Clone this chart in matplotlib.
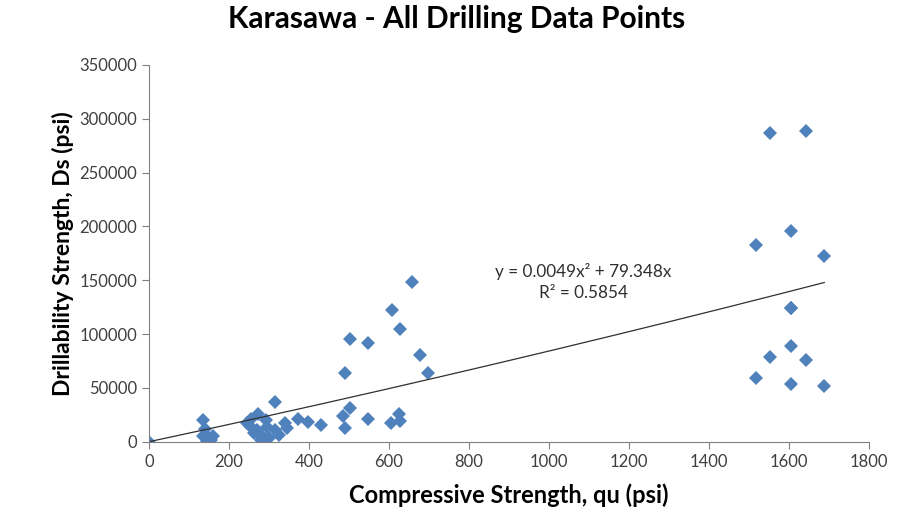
import numpy as np
import matplotlib.pyplot as plt

# compressive strength qu (psi) and drillability strength Ds (psi)
qu = [0,
      134, 140, 136, 150, 160, 145, 155,
      246, 252, 255, 272, 293, 296, 271, 314, 284, 301, 326, 314, 262, 280,
      339, 345, 372, 397, 430,
      485, 490, 490, 502, 502, 548, 548,
      605, 625, 628, 607, 627, 657, 677, 697,
      1518, 1518, 1553, 1553, 1605, 1605, 1605, 1605, 1605,
      1643, 1643, 1688, 1688]
ds = [0,
      20000, 12000, 5000, 3000, 5000, 1000, 1500,
      17000, 15000, 21000, 26000, 20000, 14000, 11000, 11000, 4500, 3500, 6000, 37000, 8000, 2000,
      17000, 13000, 21500, 18500, 15500,
      24000, 13000, 64000, 31000, 95000, 92000, 21000,
      17500, 26000, 19000, 122000, 105000, 148000, 81000, 63500,
      182500, 59500, 286500, 79000, 196000, 124500, 89000, 53500, 124500,
      289000, 76000, 172500, 51500]

# Excel polynomial trendline (order 2, intercept 0)
a2, a1 = 0.0049, 79.348
r2 = 0.5854

xticks = [0, 200, 400, 600, 800, 1000, 1200, 1400, 1600, 1800]
yticks = [0, 50000, 100000, 150000, 200000, 250000, 300000, 350000]

plt.rcParams['font.family'] = ['Lato', 'DejaVu Sans']

fig = plt.figure(figsize=(9.1, 5.15), dpi=100)
ax = fig.add_axes([0.1637, 0.1423, 0.7913, 0.7315])

ax.plot(qu, ds, linestyle='none', marker='D', markersize=7.5,
        color='#4F81BD', markeredgewidth=0)

xs = np.linspace(0, max(qu), 200)
ax.plot(xs, a2 * xs ** 2 + a1 * xs, color='#303030', linewidth=0.9)

ax.text(1085, 158500, 'y = %.4fx² + %.3fx' % (a2, a1), ha='center', va='center',
        fontsize=12.3, color='#303030')
ax.text(1085, 138000, 'R² = %.4f' % r2, ha='center', va='center',
        fontsize=12.3, color='#303030')

ax.set_xlim(0, 1800)
ax.set_ylim(0, 350000)
ax.set_xticks(xticks)
ax.set_yticks(yticks)
ax.tick_params(direction='out', length=5, width=0.8, colors='#808080',
               labelcolor='#404040', labelsize=12)
for s in ['top', 'right']:
    ax.spines[s].set_visible(False)
for s in ['left', 'bottom']:
    ax.spines[s].set_color('#808080')

ax.set_xlabel('Compressive Strength, qu (psi)', fontsize=17, fontweight='bold', labelpad=10)
ax.set_ylabel('Drillability Strength, Ds (psi)', fontsize=16.5, fontweight='bold', labelpad=4)
fig.suptitle('Karasawa - All Drilling Data Points', fontsize=21.5, fontweight='bold', x=0.502, y=0.99)

fig.savefig('out.png', dpi=100)
